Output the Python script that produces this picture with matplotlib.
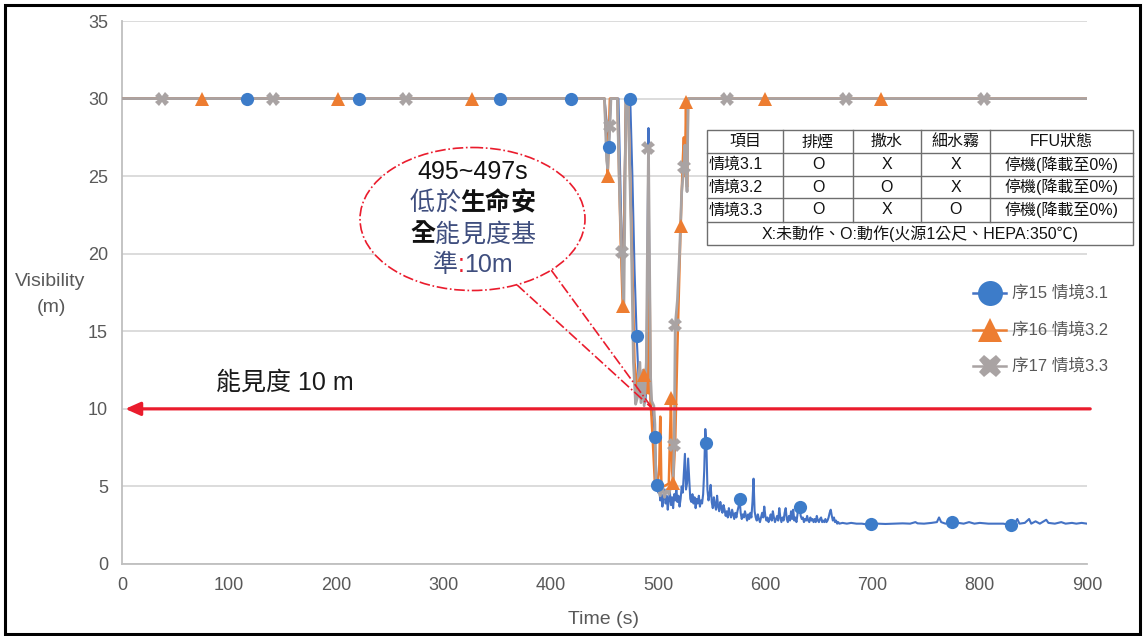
import matplotlib
matplotlib.use('Agg')
import matplotlib.pyplot as plt
import matplotlib.transforms as mtransforms
from matplotlib import font_manager
from matplotlib.patches import Ellipse, Rectangle

# ---- data -------------------------------------------------------------
# 序15 情境3.1 (blue)
blue_head_t = [0, 117, 221, 353, 419, 450, 452, 454, 456, 463, 465, 467, 469, 470,
               472, 474, 476, 478, 480, 482, 484, 486, 488, 489, 490, 491, 492, 493,
               494, 495, 496, 497, 498, 499]
blue_head_v = [30, 30, 30, 30, 30, 30, 28.5, 26.9, 30, 30, 24, 17.5, 26, 30,
               30, 30, 25, 19, 14.7, 11.6, 10.6, 11.3, 10.4, 11.2, 19, 28.1, 16, 10.3,
               9.6, 9.9, 9.1, 8.2, 6.4, 5.1]
# 1 s logging from 500 s to 669 s
blue_mid_t = list(range(500, 670))
blue_mid_v = [4.6, 4.9, 4.1, 4.5, 3.7, 4.3, 4.8, 3.9, 4.4, 3.5,
              4.2, 4.6, 3.8, 4.3, 3.6, 4.5, 4.1, 4.9, 4.0, 4.4,
              3.7, 4.2, 5.0, 4.6, 5.8, 7.1, 4.8, 5.2, 6.8, 5.5,
              4.2, 4.0, 4.5, 3.9, 4.3, 3.6, 4.2, 3.9, 4.4, 3.7,
              4.1, 3.9, 4.5, 6.0, 8.7, 7.8, 4.8, 4.1, 4.5, 5.1,
              4.0, 3.6, 4.3, 3.8, 3.5, 4.4, 3.7, 3.4, 4.0, 3.6,
              3.3, 3.8, 3.5, 3.1, 3.4, 3.0, 3.6, 3.2, 3.0, 3.5,
              3.2, 2.9, 3.3, 3.0, 3.4, 3.7, 4.2, 3.3, 2.9, 3.2,
              3.0, 3.4, 3.1, 2.8, 3.2, 2.9, 3.3, 3.0, 4.0, 5.5,
              3.4, 3.0, 2.8, 3.2, 2.9, 2.7, 3.0, 3.3, 3.0, 3.7,
              3.1, 2.8, 3.0, 2.7, 2.9, 3.2, 2.8, 3.4, 3.0, 2.7,
              2.9, 3.1, 2.8, 3.6, 3.0, 2.7, 3.0, 2.8, 3.3, 3.6,
              2.9, 2.7, 3.1, 2.8, 3.4, 2.9, 3.5, 2.8, 3.0, 2.7,
              3.2, 3.8, 3.7, 3.1, 2.9, 3.0, 2.7, 2.9, 2.8, 3.1,
              2.8, 2.7, 3.0, 2.8, 2.9, 2.7, 2.9, 2.7, 3.1, 2.8,
              2.7, 2.9, 3.0, 2.7, 2.8, 2.7, 2.9, 2.7, 2.8, 3.0,
              3.3, 3.5, 3.1, 2.8, 3.0, 2.7, 2.8, 2.6, 2.7, 2.6]
blue_tail_t = [672, 676, 680, 685, 690, 695, 699, 705, 712, 720, 728, 735, 740, 742,
               748, 755, 760, 762, 764, 768, 774, 780, 785, 790, 795, 800, 808, 815,
               822, 829, 833, 835, 837, 842, 846, 848, 852, 856, 862, 864, 870, 876,
               880, 886, 890, 895, 900]
blue_tail_v = [2.65, 2.6, 2.65, 2.6, 2.6, 2.55, 2.6, 2.6, 2.58, 2.6, 2.62, 2.6, 2.7, 2.62,
               2.6, 2.65, 2.7, 3.0, 2.7, 2.6, 2.7, 2.65, 2.6, 2.7, 2.6, 2.65, 2.6, 2.6,
               2.6, 2.5, 2.65, 2.9, 2.6, 2.65, 2.9, 2.6, 2.75, 2.6, 2.85, 2.65, 2.6, 2.7,
               2.6, 2.65, 2.6, 2.65, 2.6]
blue_t = blue_head_t + blue_mid_t + blue_tail_t
blue_v = blue_head_v + blue_mid_v + blue_tail_v
blue_marks = [117, 221, 353, 419, 454, 474, 480, 497, 499, 545, 576, 632, 699, 774, 829]

# 序16 情境3.2 (orange)
orange_t = [0, 75, 201, 326, 450, 452, 453, 455, 462, 465, 467, 469, 470, 472, 475,
            478, 481, 484, 487, 489, 490, 491, 492, 493, 495, 497, 499, 501, 502, 503,
            505, 508, 510, 511, 512, 513, 514, 516, 518, 521, 523, 524, 525, 526, 527,
            528, 600, 708, 900]
orange_v = [30, 30, 30, 30, 30, 27, 25, 30, 30, 21, 16.6, 25, 30, 30, 22,
            13, 11, 11.5, 12.2, 11, 15, 11, 18.8, 10.5, 8, 5.2, 5, 6, 9.5, 5.3,
            5, 5.1, 5.2, 8, 10.7, 6, 5.2, 8, 14, 21.8, 26, 27.5, 25, 29.8, 24.3,
            30, 30, 30, 30]
orange_marks = [75, 201, 326, 453, 467, 487, 512, 514, 521, 526, 600, 708]

# 序17 情境3.3 (gray)
gray_t = [0, 37, 141, 265, 450, 452, 453, 455, 456, 462, 464, 466, 468, 469, 470,
          472, 475, 477, 479, 481, 483, 484, 486, 487, 489, 490, 491, 493, 494, 496,
          497, 498, 500, 502, 504, 506, 508, 510, 512, 514, 515, 516, 518, 520, 522,
          524, 525, 527, 528, 564, 675, 804, 900]
gray_v = [30, 30, 30, 30, 30, 26, 25.5, 28.2, 30, 30, 24, 20.1, 16.3, 23, 30,
          30, 21, 13, 10.3, 10.8, 13, 10.4, 12.5, 10.2, 13, 20, 26.8, 12, 10.5, 10.2,
          9, 5.2, 4.8, 4.4, 5.0, 4.3, 4.8, 4.5, 5.0, 5.5, 7.7, 15.4, 17, 20, 24,
          25.6, 27, 24, 30, 30, 30, 30, 30]
gray_marks = [37, 141, 265, 455, 466, 491, 515, 516, 524, 564, 675, 804]

series_labels = ['序15 情境3.1', '序16 情境3.2', '序17 情境3.3']
limit_value = 10
limit_label = '能見度 10 m'
callout_time = 495

table_header = ['項目', '排煙', '撒水', '細水霧', 'FFU狀態']
table_rows = [['情境3.1', 'O', 'X', 'X', '停機(降載至0%)'],
              ['情境3.2', 'O', 'O', 'X', '停機(降載至0%)'],
              ['情境3.3', 'O', 'X', 'O', '停機(降載至0%)']]
table_note = 'X:未動作、O:動作(火源1公尺、HEPA:350℃)'

# ---- style ------------------------------------------------------------
BLUE, BLUE_M = '#4472C4', '#3D7CC9'
ORANGE = '#ED7D31'
GRAY = '#A9A3A3'
RED = '#EA1C2D'
SLATE = '#3F4E7E'
TXT = '#595959'

names = {f.name for f in font_manager.fontManager.ttflist}
NARROW = 'Liberation Sans Narrow' if 'Liberation Sans Narrow' in names else 'Liberation Sans'
CJK = 'Noto Sans CJK TC'
plt.rcParams['font.family'] = ['Liberation Sans', CJK, 'DejaVu Sans']
narrow_family = [NARROW, CJK, 'DejaVu Sans']

W, H = 1144, 636
fig = plt.figure(figsize=(W / 100, H / 100), dpi=100)
ax = fig.add_axes([122 / W, 1 - 564 / H, 965 / W, 543 / H])

ax.plot(blue_t, blue_v, color=BLUE, lw=1.5, zorder=3)
ax.plot(orange_t, orange_v, color=ORANGE, lw=1.8, zorder=3)
ax.plot(gray_t, gray_v, color=GRAY, lw=2.0, zorder=3)


def pick(t, v, marks):
    idx = [t.index(m) for m in marks]
    return [t[i] for i in idx], [v[i] for i in idx]


ax.plot(*pick(blue_t, blue_v, blue_marks), ls='none', marker='o', ms=9.5,
        color=BLUE_M, mew=0, zorder=4)
ax.plot(*pick(orange_t, orange_v, orange_marks), ls='none', marker='^', ms=10.5,
        color=ORANGE, mew=0, zorder=4)
ax.plot(*pick(gray_t, gray_v, gray_marks), ls='none', marker='X', ms=9.5,
        color=GRAY, mew=0, zorder=4)

ax.set_xlim(0, 900)
ax.set_ylim(0, 35)
ax.set_xticks(range(0, 901, 100))
ax.set_yticks(range(0, 36, 5))
ax.grid(axis='y', color='#D9D9D9', lw=1.3)
ax.set_axisbelow(True)
for s in ['top', 'right']:
    ax.spines[s].set_visible(False)
for s in ['left', 'bottom']:
    ax.spines[s].set_color('#BFBFBF')
    ax.spines[s].set_linewidth(1.3)
ax.tick_params(length=0, labelsize=13, labelcolor=TXT)
ax.tick_params(axis='x', pad=9)
ax.tick_params(axis='y', pad=10)
for lbl in ax.get_xticklabels() + ax.get_yticklabels():
    lbl.set_fontfamily(narrow_family)

# visibility limit arrow
ax.annotate('', xy=(3, limit_value), xytext=(903, limit_value),
            arrowprops=dict(arrowstyle='-|>,head_length=0.9,head_width=0.4',
                            color=RED, lw=2.3, shrinkA=0, shrinkB=0),
            annotation_clip=False, zorder=6)
ax.text(152, limit_value + 1.7, limit_label, ha='center', va='center',
        fontsize=18, color='#1A1A1A')

# ---- overlay in pixel units (callout, table, legend, frame) ----------
ov = fig.add_axes([0, 0, 1, 1], zorder=5)
ov.set_xlim(0, W)
ov.set_ylim(H, 0)
ov.axis('off')
ov.patch.set_alpha(0)

tip = ax.transData.transform((callout_time, limit_value))
tip_x, tip_y = tip[0], H - tip[1]
for sx, sy in [(516.8, 284.7), (551.2, 270.1)]:
    ov.plot([sx, tip_x], [sy, tip_y], color=RED, lw=1.2, ls='-.', zorder=2)
ov.add_patch(Ellipse((472.5, 219), 225, 143, facecolor='white', edgecolor=RED,
                     lw=1.2, ls='-.', zorder=3))


def text_width(s, size):
    renderer = fig.canvas.get_renderer()
    t = ov.text(0, 0, s, fontsize=size)
    w = t.get_window_extent(renderer).width
    t.remove()
    return w


def place(x, y, s, color, weight, size, off, ha='left'):
    ov.text(x, y, s, color=color, fontsize=size, fontweight=weight,
            ha=ha, va='baseline', zorder=6,
            transform=mtransforms.offset_copy(ov.transData, fig=fig, x=off, y=0,
                                              units='dots'))


def cjk_line(x, y, parts, size):
    # full-width glyphs: each character sits centred in its own em cell
    em = size * fig.dpi / 72
    chars = [(c, color, weight) for s, color, weight in parts for c in s]
    off = -em * len(chars) / 2
    for c, color, weight in chars:
        place(x, y, c, color, weight, size, off + em / 2, ha='center')
        off += em


def mixed_line(x, y, parts, size):
    full = ''.join(p[0] for p in parts)
    start = -text_width(full, size) / 2
    prefix = ''
    for s, color, weight in parts:
        off = start + (text_width(prefix, size) if prefix else 0)
        place(x, y, s, color, weight, size, off)
        prefix += s


mixed_line(472.5, 179, [(f'{callout_time}~497s', '#111111', 'normal')], 18)
cjk_line(472.5, 210, [('低於', SLATE, 'normal'), ('生命安', '#111111', 'bold')], 18)
cjk_line(472.5, 241.5, [('全', '#111111', 'bold'), ('能見度基', SLATE, 'normal')], 18)
mixed_line(472.5, 272, [('準', SLATE, 'normal'), (':', RED, 'normal'),
                        ('10m', SLATE, 'normal')], 18)

# scenario table
cols = [706.7, 783.3, 852.7, 921, 990, 1133.3]
rows = [130, 153.3, 176, 198.3, 221.7, 245]
ov.add_patch(Rectangle((cols[0], rows[0]), cols[-1] - cols[0], rows[-1] - rows[0],
                       facecolor='white', edgecolor='#6E6E6E', lw=1, zorder=2))
for y in rows[1:-1]:
    ov.plot([cols[0], cols[-1]], [y, y], color='#6E6E6E', lw=1, zorder=3)
for x in cols[1:-1]:
    ov.plot([x, x], [rows[0], rows[-2]], color='#6E6E6E', lw=1, zorder=3)
for j, s in enumerate(table_header):
    ov.text((cols[j] + cols[j + 1]) / 2, (rows[0] + rows[1]) / 2, s,
            ha='center', va='center', fontsize=11.5, color='#111111', zorder=4)
for i, row in enumerate(table_rows):
    yc = (rows[i + 1] + rows[i + 2]) / 2
    for j, s in enumerate(row):
        if j == 0:
            ov.text(cols[0] + 2, yc, s, ha='left', va='center', fontsize=11.5,
                    color='#111111', zorder=4)
        else:
            ov.text((cols[j] + cols[j + 1]) / 2, yc, s, ha='center', va='center',
                    fontsize=11.5, color='#111111', zorder=4)
ov.text((cols[0] + cols[-1]) / 2, (rows[-2] + rows[-1]) / 2, table_note,
        ha='center', va='center', fontsize=11.5, color='#111111', zorder=4)

# legend
legend_style = [(BLUE, BLUE_M, 'o', 18), (ORANGE, ORANGE, '^', 17), (GRAY, GRAY, 'X', 16)]
for (lc, mc, mk, ms), lab, y in zip(legend_style, series_labels, [293, 330, 366]):
    ov.plot([973, 1006], [y, y], color=lc, lw=1.8, zorder=3)
    ov.plot([989.5], [y], marker=mk, ms=ms, color=mc, mew=0, zorder=4)
    ov.text(1012, y, lab, ha='left', va='center', fontsize=12, color=TXT,
            family=narrow_family, zorder=4)

# axis titles
ov.text(50, 282, 'Visibility', ha='center', va='center', fontsize=14, color=TXT,
        family=narrow_family)
ov.text(51, 308, '(m)', ha='center', va='center', fontsize=14, color=TXT,
        family=narrow_family)
ov.text(604, 619, 'Time (s)', ha='center', va='center', fontsize=14, color=TXT,
        family=narrow_family)

# outer frame
ov.add_patch(Rectangle((5, 5), 1135, 629, fill=False, edgecolor='black', lw=2.2,
                       zorder=10))

fig.savefig('out.png', dpi=100)
